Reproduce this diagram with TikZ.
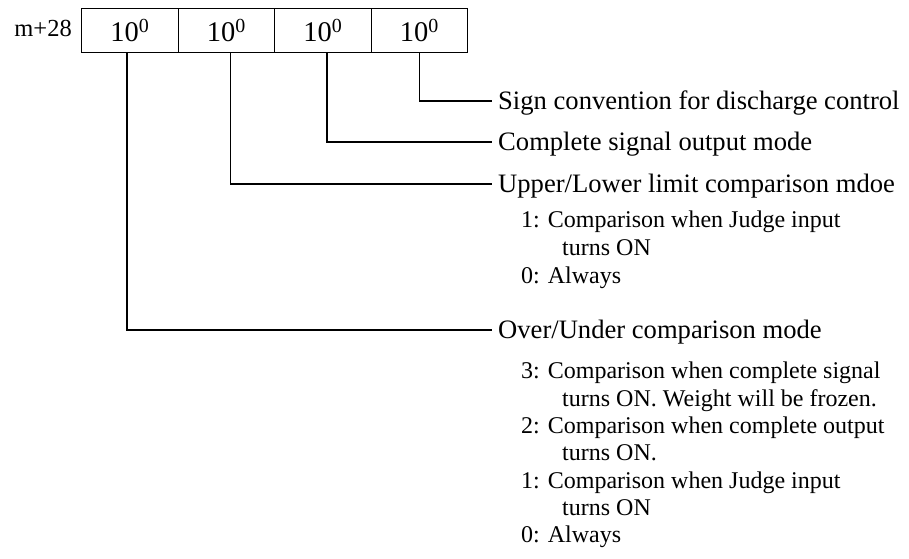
\documentclass[tikz,border=0pt]{standalone}
\usepackage{fontspec}
\setmainfont{Liberation Serif}
\begin{document}
\begin{tikzpicture}[x=1pt,y=-1pt,
  cell/.style={draw, line width=1.3pt, minimum width=96.5pt, minimum height=44pt, inner sep=0pt,
    text height=22pt, text depth=0pt, font=\fontsize{28.5}{32}\selectfont, anchor=north west},
  reglbl/.style={anchor=base east, inner sep=0pt, font=\fontsize{24.5}{28}\selectfont},
  mainlbl/.style={anchor=base west, inner sep=0pt, text height=18pt, text depth=2pt,
    font=\fontsize{26.6}{30}\selectfont},
  sublbl/.style={anchor=base west, inner sep=0pt, font=\fontsize{24}{28}\selectfont},
  conn/.style={line width=1.3pt}]
\useasboundingbox (0,0) rectangle (909,558);

\node[reglbl] (reg) at (72,36) {m+28};
\node[cell] (c1) at (81,8) {10\textsuperscript{0}};
\node[cell] (c2) at (177.5,8) {10\textsuperscript{0}};
\node[cell] (c3) at (274,8) {10\textsuperscript{0}};
\node[cell] (c4) at (370.5,8) {10\textsuperscript{0}};

\node[mainlbl] (l4) at (498,109) {Sign convention for discharge control};
\node[mainlbl] (l3) at (498,150) {Complete signal output mode};
\node[mainlbl] (l2) at (498,192) {Upper/Lower limit comparison mdoe};
\node[sublbl] (l2a) at (521,227) {1: Comparison when Judge input};
\node[sublbl] (l2b) at (562,255) {turns ON};
\node[sublbl] (l2c) at (521,283) {0: Always};

\node[mainlbl] (l1) at (498,338) {Over/Under comparison mode};
\node[sublbl] (l1a) at (521,378) {3: Comparison when complete signal};
\node[sublbl] (l1b) at (562,406) {turns ON. Weight will be frozen.};
\node[sublbl] (l1c) at (521,433) {2: Comparison when complete output};
\node[sublbl] (l1d) at (562,460) {turns ON.};
\node[sublbl] (l1e) at (521,488) {1: Comparison when Judge input};
\node[sublbl] (l1f) at (562,515) {turns ON};
\node[sublbl] (l1g) at (521,542) {0: Always};

\draw[conn] (c4.south) |- ([xshift=-6pt]l4.west);
\draw[conn] ([xshift=4pt]c3.south) |- ([xshift=-6pt]l3.west);
\draw[conn] ([xshift=4pt]c2.south) |- ([xshift=-6pt]l2.west);
\draw[conn] ([xshift=-3pt]c1.south) |- ([xshift=-6pt]l1.west);
\end{tikzpicture}
\end{document}
